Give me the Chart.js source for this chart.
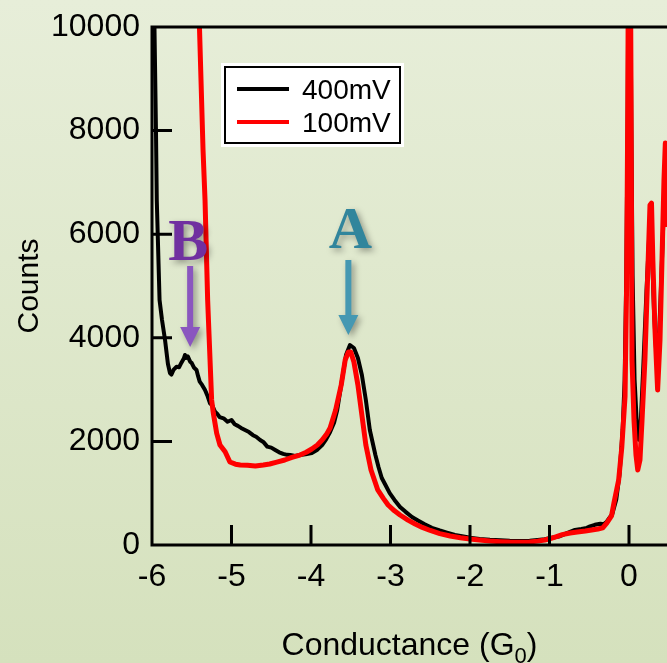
<!DOCTYPE html>
<html><head><meta charset="utf-8">
<script src="https://cdn.jsdelivr.net/npm/chart.js@4.4.1/dist/chart.umd.min.js"></script>
<style>html,body{margin:0;padding:0;background:#dfe8cc;overflow:hidden}#wrap{width:667px;height:663px;position:relative}</style>
</head><body><div id="wrap"><canvas id="c" width="667" height="663"></canvas></div>
<script>
const xTicks = [-6, -5, -4, -3, -2, -1, 0];
const yTicks = [0, 2000, 4000, 6000, 8000, 10000];
const seriesLabels = ['400mV', '100mV'];
const xTitleMain = 'Conductance (G';
const xTitleSub = '0';
const xTitleEnd = ')';
const yTitle = 'Counts';
const annotationNames = ['B', 'A'];
const annotationAt = [-5.52, -3.53];

const conductance400 = [-6.00,-5.969,-5.95,-5.94,-5.905,-5.874,-5.836,-5.80,-5.774,-5.755,-5.73,-5.69,-5.66,-5.63,-5.60,-5.585,-5.57,-5.55,-5.52,-5.50,-5.47,-5.44,-5.42,-5.40,-5.37,-5.333,-5.30,-5.27,-5.24,-5.21,-5.186,-5.15,-5.10,-5.05,-5.00,-4.96,-4.92,-4.88,-4.83,-4.78,-4.73,-4.69,-4.64,-4.60,-4.55,-4.50,-4.45,-4.40,-4.35,-4.30,-4.26,-4.20,-4.14,-4.07,-3.99,-3.92,-3.86,-3.81,-3.76,-3.71,-3.67,-3.61,-3.56,-3.51,-3.46,-3.41,-3.36,-3.31,-3.26,-3.19,-3.15,-3.11,-3.06,-3.01,-2.95,-2.88,-2.81,-2.73,-2.65,-2.57,-2.48,-2.38,-2.29,-2.19,-2.10,-2.00,-1.88,-1.75,-1.62,-1.50,-1.37,-1.25,-1.15,-1.06,-0.97,-0.87,-0.78,-0.68,-0.60,-0.53,-0.49,-0.43,-0.36,-0.32,-0.28,-0.21,-0.16,-0.12,-0.08,-0.055,-0.035,-0.018,-0.005,0.012,0.03,0.045,0.07,0.10,0.125,0.15,0.18,0.22,0.255,0.29,0.315,0.35,0.375,0.41,0.45,0.49];
const counts400 = [13000,10000,8000,6660,4730,4344,3958,3500,3320,3290,3380,3443,3430,3520,3600,3668,3610,3640,3540,3513,3420,3378,3260,3153,3090,2992,2870,2735,2690,2580,2542,2470,2446,2380,2413,2330,2300,2260,2220,2180,2120,2090,2027,1990,1900,1880,1834,1790,1760,1740,1737,1720,1737,1750,1776,1840,1930,2040,2181,2360,2606,3185,3668,3861,3803,3610,3282,2800,2220,1737,1500,1293,1150,1000,870,734,640,541,470,400,330,280,240,193,170,140,115,100,90,80,75,80,95,110,140,170,230,290,310,330,360,390,410,400,450,600,880,1350,2220,3185,5116,8000,12000,12000,8000,5200,3200,2300,2030,2450,3450,4900,6000,5600,4500,3500,3900,5300,7000,7300];

const conductance100 = [-5.44,-5.403,-5.358,-5.333,-5.30,-5.25,-5.229,-5.186,-5.145,-5.08,-5.02,-4.95,-4.89,-4.80,-4.70,-4.60,-4.52,-4.43,-4.33,-4.24,-4.14,-4.06,-3.99,-3.92,-3.86,-3.80,-3.76,-3.69,-3.62,-3.57,-3.53,-3.50,-3.46,-3.41,-3.36,-3.31,-3.245,-3.16,-3.09,-3.03,-2.95,-2.88,-2.78,-2.69,-2.60,-2.50,-2.38,-2.25,-2.12,-2.00,-1.88,-1.75,-1.62,-1.50,-1.37,-1.25,-1.15,-1.06,-1.00,-0.93,-0.84,-0.74,-0.65,-0.55,-0.47,-0.39,-0.33,-0.28,-0.22,-0.19,-0.13,-0.09,-0.05,-0.03,-0.015,-0.004,0.012,0.025,0.038,0.063,0.088,0.11,0.138,0.164,0.20,0.233,0.264,0.283,0.30,0.327,0.36,0.39,0.415,0.44,0.457,0.478,0.49];
const counts100 = [14000,10000,7625,6660,4730,2800,2548,2156,1930,1800,1602,1560,1544,1540,1525,1545,1564,1600,1641,1690,1737,1790,1853,1930,2027,2150,2259,2606,3089,3571,3726,3726,3533,3089,2510,1930,1448,1062,900,772,660,579,480,405,340,280,220,174,140,116,95,77,65,58,55,58,75,97,120,154,200,232,250,270,290,309,330,420,560,805,1255,1898,2863,5000,8500,13000,13000,9000,3571,2413,1737,1448,1641,2413,3571,5116,6564,6600,5502,4150,2992,3958,5502,7046,7760,6139,5000];

const FONT = "'Liberation Sans', Arial, sans-serif";
const SERIF = "'Liberation Serif', 'Times New Roman', serif";

const bgPlugin = {
  id: 'bg',
  beforeDraw(chart) {
    const ctx = chart.ctx;
    const g = ctx.createLinearGradient(0, 0, 0, chart.height);
    g.addColorStop(0, '#e7eed9');
    g.addColorStop(1, '#d5e1bd');
    ctx.save();
    ctx.fillStyle = g;
    ctx.fillRect(0, 0, chart.width, chart.height);
    ctx.restore();
  }
};

const framePlugin = {
  id: 'frame',
  afterDatasetsDraw(chart) {
    const ctx = chart.ctx;
    const a = chart.chartArea;
    const xs = chart.scales.x, ys = chart.scales.y;
    ctx.save();
    ctx.strokeStyle = '#000';
    ctx.lineWidth = 3;
    ctx.lineCap = 'butt';
    ctx.beginPath();
    ctx.moveTo(a.left - 1.5, a.top); ctx.lineTo(a.right, a.top);
    ctx.moveTo(a.left, a.top); ctx.lineTo(a.left, a.bottom);
    ctx.moveTo(a.left - 1.5, a.bottom); ctx.lineTo(a.right, a.bottom);
    xTicks.forEach(v => { const p = xs.getPixelForValue(v); ctx.moveTo(p, a.bottom); ctx.lineTo(p, a.bottom - 20); });
    yTicks.forEach(v => { const p = ys.getPixelForValue(v); ctx.moveTo(a.left, p); ctx.lineTo(a.left + 20, p); });
    ctx.stroke();
    ctx.restore();
  },
  afterDraw(chart) {
    const ctx = chart.ctx;
    const a = chart.chartArea;
    const xs = chart.scales.x;
    ctx.save();
    ctx.fillStyle = '#000';
    ctx.font = '32px ' + FONT;
    ctx.textBaseline = 'alphabetic';
    const w1 = ctx.measureText(xTitleMain).width;
    ctx.font = '22px ' + FONT;
    const w2 = ctx.measureText(xTitleSub).width;
    ctx.font = '32px ' + FONT;
    const w3 = ctx.measureText(xTitleEnd).width;
    const cx = (a.left + a.right) / 2;
    const x0 = cx - (w1 + w2 + w3) / 2;
    const by = 655;
    ctx.textAlign = 'left';
    ctx.fillText(xTitleMain, x0, by);
    ctx.font = '22px ' + FONT;
    ctx.fillText(xTitleSub, x0 + w1, by + 8);
    ctx.font = '32px ' + FONT;
    ctx.fillText(xTitleEnd, x0 + w1 + w2, by);

    ctx.save();
    ctx.translate(30, (a.top + a.bottom) / 2);
    ctx.rotate(-Math.PI / 2);
    ctx.textAlign = 'center';
    ctx.textBaseline = 'middle';
    ctx.font = '30px ' + FONT;
    ctx.fillText(yTitle, 0, 0);
    ctx.restore();

    const lx = 224, ly = 66, lw = 177, lh = 78;
    ctx.fillStyle = '#ffffff';
    ctx.fillRect(lx - 3, ly - 3, lw + 6, lh + 6);
    ctx.strokeStyle = '#000';
    ctx.lineWidth = 2;
    ctx.strokeRect(lx + 1, ly + 1, lw - 2, lh - 2);
    chart.data.datasets.forEach((ds, i) => {
      const yy = 89 + i * 33;
      ctx.strokeStyle = ds.borderColor;
      ctx.lineWidth = 4;
      ctx.beginPath(); ctx.moveTo(237, yy); ctx.lineTo(289, yy); ctx.stroke();
      ctx.fillStyle = '#000';
      ctx.font = '28px ' + FONT;
      ctx.textAlign = 'left';
      ctx.textBaseline = 'alphabetic';
      ctx.fillText(ds.label, 302, yy + 10);
    });

    const styles = [
      { text: '#7030a0', arrow: '#8a56bf', dx: -2, tBase: 260, sTop: 266, tip: 347 },
      { text: '#31859c', arrow: '#4598b2', dx: 2, tBase: 248, sTop: 260, tip: 335 }
    ];
    annotationNames.forEach((n, i) => {
      const st = styles[i];
      const px = xs.getPixelForValue(annotationAt[i]);
      ctx.save();
      ctx.shadowColor = 'rgba(0,0,0,0.35)';
      ctx.shadowBlur = 6;
      ctx.shadowOffsetX = 3;
      ctx.shadowOffsetY = 3;
      ctx.fillStyle = st.text;
      ctx.font = 'bold 60px ' + SERIF;
      ctx.textAlign = 'center';
      ctx.textBaseline = 'alphabetic';
      ctx.fillText(n, px + st.dx, st.tBase);
      ctx.fillStyle = st.arrow;
      ctx.beginPath();
      ctx.moveTo(px - 3, st.sTop);
      ctx.lineTo(px + 3, st.sTop);
      ctx.lineTo(px + 3, st.tip - 20);
      ctx.lineTo(px + 10, st.tip - 20);
      ctx.lineTo(px, st.tip);
      ctx.lineTo(px - 10, st.tip - 20);
      ctx.lineTo(px - 3, st.tip - 20);
      ctx.closePath();
      ctx.fill();
      ctx.restore();
    });
    ctx.restore();
  }
};

const toPts = (xs, ys) => xs.map((x, i) => ({ x: x, y: ys[i] }));

new Chart(document.getElementById('c'), {
  type: 'line',
  data: {
    datasets: [
      { label: seriesLabels[0], data: toPts(conductance400, counts400), borderColor: '#000000', borderWidth: 4, pointRadius: 0, tension: 0, order: 1, clip: 0, borderJoinStyle: 'round' },
      { label: seriesLabels[1], data: toPts(conductance100, counts100), borderColor: '#ff0000', borderWidth: 5, pointRadius: 0, tension: 0, order: 0, clip: 0, borderJoinStyle: 'round' }
    ]
  },
  options: {
    responsive: false,
    animation: false,
    devicePixelRatio: 1,
    layout: { padding: { top: 27, left: 0, right: 0, bottom: 0 } },
    plugins: { legend: { display: false }, tooltip: { enabled: false }, title: { display: false } },
    scales: {
      x: {
        type: 'linear', min: -6, max: 0.478,
        grid: { display: false, drawTicks: false },
        border: { display: false },
        afterFit(s) { s.height = 118; },
        afterBuildTicks(s) { s.ticks = xTicks.map(v => ({ value: v })); },
        ticks: { autoSkip: false, maxRotation: 0, padding: 13, color: '#000', font: { family: FONT, size: 32 }, callback: v => String(v) }
      },
      y: {
        type: 'linear', min: 0, max: 10000,
        grid: { display: false, drawTicks: false },
        border: { display: false },
        afterFit(s) { s.width = 152; },
        afterBuildTicks(s) { s.ticks = yTicks.map(v => ({ value: v })); },
        ticks: { autoSkip: false, padding: 12, color: '#000', font: { family: FONT, size: 32, lineHeight: 0.9 }, callback: v => String(v) }
      }
    }
  },
  plugins: [bgPlugin, framePlugin]
});
</script></body></html>
